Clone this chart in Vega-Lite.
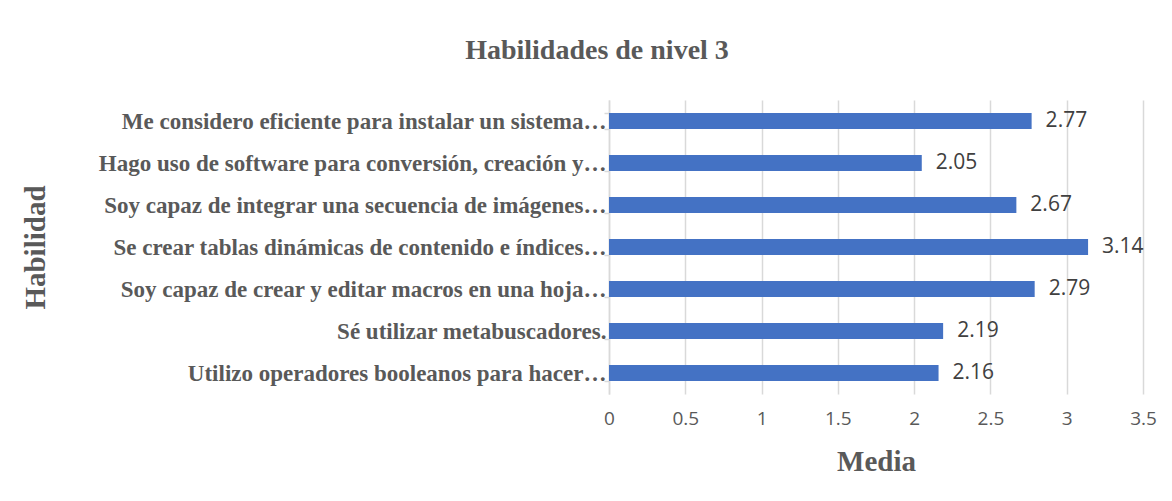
{
  "$schema": "https://vega.github.io/schema/vega-lite/v6.json",
  "width": 534,
  "height": 294,
  "autosize": {"type": "none"},
  "padding": {"left": 609, "top": 100, "right": 29, "bottom": 107},
  "background": "white",
  "title": {
    "text": "Habilidades de nivel 3",
    "font": "Liberation Serif",
    "fontSize": 28,
    "fontWeight": "bold",
    "color": "#595959",
    "anchor": "middle",
    "dx": -279,
    "offset": 24
  },
  "data": {
    "values": [
      {"habilidad": "Me considero eficiente para instalar un sistema…", "media": 2.77, "orden": 1},
      {"habilidad": "Hago uso de software para conversión, creación y…", "media": 2.05, "orden": 2},
      {"habilidad": "Soy capaz de integrar una secuencia de imágenes…", "media": 2.67, "orden": 3},
      {"habilidad": "Se crear tablas dinámicas de contenido e índices…", "media": 3.14, "orden": 4},
      {"habilidad": "Soy capaz de crear y editar macros en una hoja…", "media": 2.79, "orden": 5},
      {"habilidad": "Sé utilizar metabuscadores.", "media": 2.19, "orden": 6},
      {"habilidad": "Utilizo operadores booleanos para hacer…", "media": 2.16, "orden": 7}
    ]
  },
  "encoding": {
    "y": {
      "field": "habilidad",
      "type": "nominal",
      "sort": {"field": "orden", "order": "ascending"},
      "scale": {"paddingInner": 0.62, "paddingOuter": 0.31},
      "axis": {
        "title": "Habilidad",
        "titleFont": "Liberation Serif",
        "titleFontSize": 29,
        "titleFontWeight": "bold",
        "titleColor": "#595959",
        "titleAngle": 270,
        "titleX": -574,
        "titleY": 147,
        "titleAlign": "center",
        "titleBaseline": "middle",
        "labelFont": "Liberation Serif",
        "labelFontSize": 23,
        "labelFontWeight": "bold",
        "labelColor": "#595959",
        "labelPadding": -2,
        "labelLimit": 700,
        "tickBand": "extent",
        "tickSize": 5,
        "tickColor": "#d9d9d9",
        "tickWidth": 1.5,
        "domainColor": "#d9d9d9",
        "domainWidth": 1.5,
        "grid": false
      }
    },
    "x": {
      "field": "media",
      "type": "quantitative",
      "scale": {"domain": [0, 3.5], "nice": false},
      "axis": {
        "title": "Media",
        "titleFont": "Liberation Serif",
        "titleFontSize": 29,
        "titleFontWeight": "bold",
        "titleColor": "#595959",
        "titleBaseline": "middle",
        "titleY": 67,
        "values": [0, 0.5, 1, 1.5, 2, 2.5, 3, 3.5],
        "format": "~g",
        "labelFont": "Open Sans",
        "labelFontSize": 19,
        "labelColor": "#595959",
        "labelPadding": 15,
        "ticks": false,
        "domain": false,
        "grid": true,
        "gridColor": "#d9d9d9",
        "gridWidth": 1.5,
        "labelFlush": false
      }
    }
  },
  "layer": [
    {"mark": {"type": "bar", "color": "#4472C4"}},
    {
      "mark": {"type": "text", "align": "left", "baseline": "middle", "dx": 14, "font": "Open Sans", "fontSize": 21, "color": "#404040"},
      "encoding": {"text": {"field": "media", "type": "quantitative", "format": ".2f"}}
    }
  ],
  "config": {"view": {"stroke": null}}
}
